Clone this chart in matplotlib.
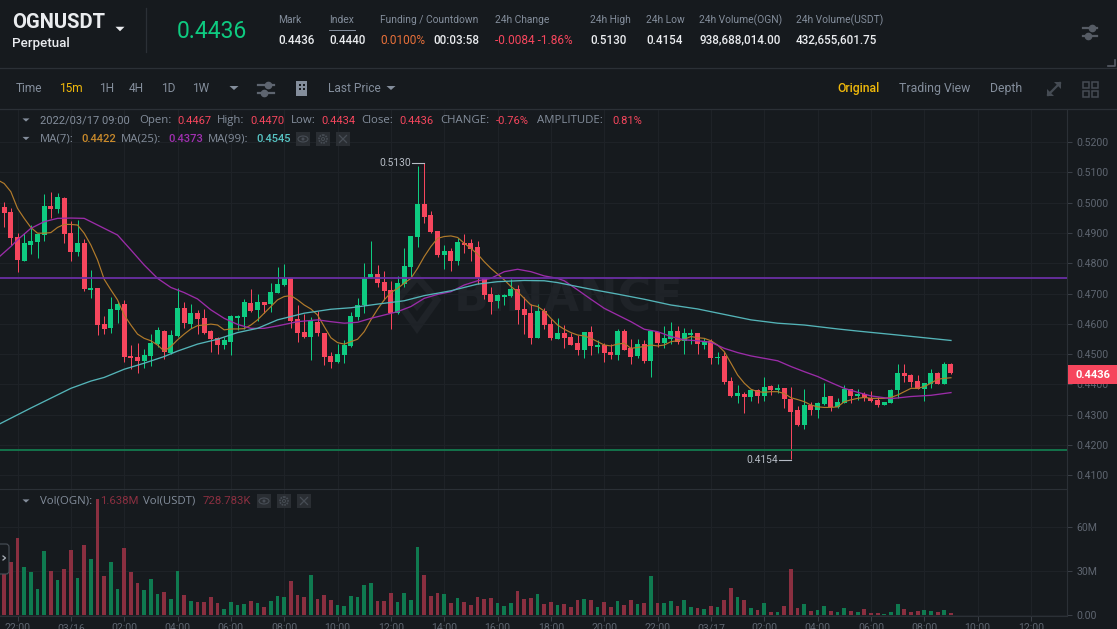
# OGNUSDT 15m perpetual chart, dark exchange layout
import matplotlib
matplotlib.use('Agg')
import matplotlib.pyplot as plt
from matplotlib.patches import Rectangle, Polygon, FancyBboxPatch, Circle, Ellipse

plt.rcParams['font.family'] = ['Roboto', 'DejaVu Sans']

### data ###
opens = [
    .4984, .4969, .4885, .4808, .4861, .4870, .4892, .4989, .4979, .5016,
    .4899, .4838, .4866, .4712, .4717, .4598, .4586, .4646, .4665, .4493,
    .4489, .4477, .4494, .4533, .4576, .4503, .4560, .4651, .4599, .4637,
    .4619, .4575, .4554, .4529, .4541, .4620, .4624, .4668, .4646, .4671,
    .4664, .4703, .4727, .4750, .4616, .4573, .4558, .4607, .4571, .4494,
    .4475, .4497, .4527, .4624, .4661, .4751, .4765, .4737, .4710, .4637,
    .4731, .4789, .4888, .4995, .4959, .4905, .4826, .4840, .4808, .4868,
    .4867, .4852, .4751, .4697, .4674, .4690, .4692, .4714, .4649, .4634,
    .4554, .4643, .4599, .4551, .4570, .4558, .4537, .4514, .4573, .4523,
    .4531, .4507, .4497, .4576, .4520, .4494, .4533, .4477, .4573, .4536,
    .4551, .4576, .4542, .4562, .4569, .4530, .4543, .4486, .4494, .4411,
    .4362, .4368, .4357, .4382, .4363, .4395, .4382, .4388, .4353, .4316,
    .4266, .4332, .4317, .4335, .4361, .4325, .4340, .4385, .4362, .4368,
    .4356, .4349, .4332, .4340, .4381, .4436, .4431, .4411, .4386, .4401,
    .4436, .4401, .4467]
highs = [
    .5003, .4981, .4899, .4901, .4926, .4899, .5027, .5035, .5031, .5017,
    .4939, .4943, .4881, .4778, .4717, .4626, .4690, .4673, .4679, .4529,
    .4536, .4516, .4565, .4591, .4580, .4580, .4717, .4671, .4664, .4646,
    .4648, .4580, .4555, .4555, .4629, .4629, .4681, .4715, .4697, .4672,
    .4734, .4786, .4797, .4750, .4662, .4631, .4624, .4643, .4571, .4507,
    .4532, .4547, .4638, .4686, .4800, .4872, .4793, .4773, .4742, .4758,
    .4851, .4891, .5121, .5130, .4972, .4906, .4860, .4849, .4882, .4896,
    .4879, .4874, .4752, .4723, .4700, .4700, .4748, .4727, .4688, .4665,
    .4665, .4652, .4616, .4618, .4596, .4571, .4563, .4572, .4593, .4547,
    .4538, .4533, .4582, .4582, .4549, .4549, .4547, .4580, .4574, .4593,
    .4607, .4593, .4587, .4582, .4569, .4554, .4549, .4506, .4506, .4426,
    .4397, .4376, .4384, .4384, .4423, .4398, .4401, .4389, .4390, .4330,
    .4384, .4341, .4341, .4404, .4362, .4354, .4398, .4385, .4384, .4376,
    .4378, .4357, .4343, .4384, .4467, .4467, .4433, .4431, .4406, .4450,
    .4442, .4475, .4470]
lows = [
    .4921, .4860, .4772, .4807, .4829, .4818, .4874, .4948, .4965, .4866,
    .4808, .4825, .4709, .4686, .4563, .4566, .4571, .4602, .4475, .4450,
    .4439, .4453, .4462, .4525, .4483, .4500, .4558, .4585, .4587, .4566,
    .4566, .4507, .4499, .4518, .4498, .4580, .4582, .4640, .4609, .4635,
    .4640, .4701, .4725, .4587, .4539, .4554, .4479, .4561, .4464, .4455,
    .4472, .4470, .4525, .4613, .4635, .4750, .4723, .4679, .4583, .4631,
    .4723, .4753, .4855, .4934, .4901, .4822, .4781, .4775, .4794, .4833,
    .4808, .4730, .4682, .4633, .4653, .4662, .4687, .4598, .4566, .4532,
    .4552, .4583, .4547, .4549, .4521, .4530, .4497, .4488, .4497, .4505,
    .4475, .4483, .4481, .4514, .4467, .4486, .4472, .4426, .4525, .4521,
    .4533, .4533, .4500, .4533, .4500, .4516, .4467, .4466, .4401, .4358,
    .4340, .4307, .4346, .4340, .4346, .4365, .4373, .4321, .4154, .4263,
    .4252, .4298, .4288, .4332, .4313, .4321, .4338, .4338, .4349, .4345,
    .4343, .4324, .4331, .4340, .4356, .4409, .4393, .4384, .4345, .4389,
    .4401, .4401, .4434]
closes = [
    .4967, .4884, .4811, .4866, .4874, .4895, .4989, .4980, .5017, .4896,
    .4838, .4867, .4716, .4718, .4595, .4584, .4648, .4664, .4490, .4486,
    .4478, .4496, .4536, .4579, .4506, .4562, .4651, .4602, .4635, .4617,
    .4571, .4549, .4530, .4545, .4625, .4627, .4671, .4643, .4672, .4662,
    .4704, .4730, .4750, .4610, .4571, .4556, .4608, .4568, .4492, .4475,
    .4500, .4530, .4626, .4662, .4750, .4765, .4735, .4708, .4635, .4734,
    .4791, .4890, .4995, .4954, .4902, .4826, .4840, .4808, .4869, .4860,
    .4848, .4750, .4695, .4672, .4694, .4696, .4715, .4644, .4629, .4554,
    .4643, .4596, .4552, .4569, .4554, .4531, .4514, .4572, .4527, .4530,
    .4505, .4496, .4576, .4514, .4492, .4533, .4477, .4576, .4536, .4554,
    .4576, .4541, .4571, .4570, .4532, .4543, .4486, .4492, .4408, .4362,
    .4371, .4357, .4383, .4362, .4393, .4382, .4388, .4353, .4310, .4265,
    .4332, .4317, .4340, .4360, .4324, .4341, .4384, .4362, .4368, .4354,
    .4346, .4331, .4342, .4383, .4436, .4429, .4408, .4386, .4404, .4436,
    .4401, .4467, .4436]
volumes = [
    28.6, 36.4, 52.5, 32.7, 29.5, 18.2, 43.9, 30.2, 24.1, 31.4,
    44.3, 25.2, 47.7, 38.4, 79.1, 26.8, 36.4, 18.0, 45.7, 29.3,
    22.3, 17.0, 24.5, 14.8, 15.7, 10.9, 30.0, 13.6, 9.5, 9.3,
    8.9, 12.5, 8.6, 4.1, 8.9, 7.0, 7.7, 9.5, 8.2, 5.5,
    9.8, 13.2, 12.5, 23.2, 13.9, 12.5, 27.5, 11.1, 13.9, 10.5,
    7.3, 6.1, 13.4, 12.3, 20.5, 22.3, 9.8, 9.5, 15.0, 9.1,
    15.2, 10.7, 46.4, 27.5, 13.0, 15.2, 14.5, 8.2, 11.6, 9.1,
    7.3, 12.7, 11.1, 12.0, 8.4, 6.4, 8.2, 16.6, 11.1, 11.8,
    14.3, 7.5, 9.1, 7.0, 7.7, 5.7, 10.5, 10.9, 10.5, 5.9,
    8.9, 5.7, 9.8, 7.0, 10.5, 7.7, 8.6, 26.8, 8.4, 8.4,
    9.8, 6.1, 10.5, 5.9, 5.0, 4.1, 6.4, 5.7, 10.5, 18.4,
    12.5, 10.5, 4.8, 3.6, 8.4, 2.3, 2.3, 6.1, 31.6, 5.0,
    7.7, 3.0, 3.6, 6.4, 3.0, 2.5, 5.0, 3.2, 2.0, 4.1,
    1.8, 1.6, 0.9, 2.5, 8.0, 4.3, 2.5, 3.0, 3.6, 3.0,
    2.3, 3.4, 1.638]

# MA(7), from the bar before the first visible one
ma7 = [
    .5075, .5063, .5036, .4981, .4948, .4918, .4899, .4899, .4901, .4918,
    .4928, .4928, .4926, .4899, .4860, .4811, .4747, .4712, .4679, .4629,
    .4596, .4566, .4552, .4544, .4530, .4510, .4525, .4547, .4566, .4583,
    .4594, .4596, .4599, .4596, .4580, .4583, .4583, .4584, .4596, .4613,
    .4635, .4657, .4679, .4690, .4693, .4679, .4662, .4649, .4629, .4591,
    .4554, .4538, .4533, .4541, .4549, .4574, .4613, .4648, .4679, .4703,
    .4717, .4734, .4750, .4783, .4822, .4855, .4882, .4888, .4890, .4885,
    .4866, .4849, .4830, .4805, .4783, .4764, .4745, .4723, .4706, .4684,
    .4662, .4657, .4642, .4618, .4596, .4582, .4571, .4563, .4560, .4552,
    .4541, .4530, .4527, .4533, .4536, .4519, .4522, .4525, .4530, .4527,
    .4530, .4541, .4544, .4549, .4558, .4554, .4552, .4544, .4530, .4508,
    .4470, .4431, .4404, .4384, .4376, .4374, .4376, .4376, .4370, .4356,
    .4350, .4343, .4332, .4326, .4324, .4324, .4326, .4343, .4349, .4354,
    .4357, .4354, .4354, .4354, .4357, .4365, .4376, .4387, .4387, .4393,
    .4404, .4417, .4420, .4422]

ma25_bars = [-1, 1, 2, 4, 6, 8, 10, 12, 14, 17, 19, 21, 23, 25, 27, 29, 31, 33, 35, 37,
             39, 41, 44, 47, 49, 51, 53, 55, 57, 59, 61, 63, 65, 67, 69, 71, 73, 75, 77, 79,
             81, 83, 84, 86, 88, 90, 92, 94, 96, 98, 100, 102, 104, 106, 108, 110, 112, 114, 116, 118,
             120, 122, 124, 126, 128, 130, 133, 136, 139, 142]
ma25 = [.4816, .4855, .4877, .4915, .4937, .4948, .4949, .4948, .4926, .4893,
        .4844, .4794, .4750, .4720, .4703, .4682, .4646, .4618, .4598, .4585,
        .4585, .4593, .4607, .4613, .4607, .4602, .4605, .4618, .4629, .4640,
        .4657, .4684, .4697, .4706, .4728, .4742, .4750, .4772, .4780, .4772,
        .4758, .4750, .4742, .4712, .4681, .4651, .4629, .4607, .4582, .4574,
        .4558, .4547, .4544, .4539, .4519, .4505, .4494, .4486, .4478, .4459,
        .4442, .4426, .4406, .4387, .4374, .4362, .4353, .4360, .4364, .4373]

ma99_bars = [-1, 4, 10, 11, 13, 15, 18, 21, 24, 26, 29, 32, 35, 38, 41, 45, 49, 52, 56, 60,
             63, 67, 71, 74, 78, 81, 83, 88, 92, 96, 100, 104, 108, 112, 116, 120, 125, 128, 134, 142]
ma99 = [.4266, .4322, .4387, .4395, .4411, .4423, .4450, .4470, .4492, .4510,
        .4533, .4549, .4571, .4585, .4613, .4635, .4648, .4653, .4665, .4676,
        .4693, .4709, .4731, .4739, .4743, .4742, .4736, .4714, .4698, .4681,
        .4662, .4649, .4631, .4613, .4602, .4596, .4583, .4576, .4563, .4545]

price_ticks = [.41, .42, .43, .44, .45, .46, .47, .48, .49, .50, .51, .52]
vol_ticks = [0, 30, 60]
vol_tick_labels = ['0.00', '30M', '60M']
time_tick_bars = [2, 10, 18, 26, 34, 42, 50, 58, 66, 74, 82, 90, 98, 106, 114, 122, 130, 138, 146, 154]
time_labels = ['22:00', '03/16', '02:00', '04:00', '06:00', '08:00', '10:00', '12:00', '14:00', '16:00',
               '18:00', '20:00', '22:00', '03/17', '02:00', '04:00', '06:00', '08:00', '10:00', '12:00']
resistance = .4752
support = .4183

### colours ###
BG = '#161a1e'
GRID = '#1e2227'
LINE = '#2b3036'
DIM = '#848e9c'
AXIS_TXT = '#5e6570'
WHITE = '#eaecef'
RED = '#f6465d'
GREEN = '#0ecb81'
GOLD = '#f0b90b'

W, H = 1117, 629
bars = list(range(len(closes)))
fig = plt.figure(figsize=(W / 100, H / 100), dpi=100, facecolor=BG)


def px_axes(left, top, right, bottom, **kw):
    return fig.add_axes([left / W, 1 - bottom / H, (right - left) / W, (bottom - top) / H], **kw)


# watermark sits under everything
back = px_axes(0, 0, W, H, zorder=0)
back.set_xlim(0, W)
back.set_ylim(H, 0)
back.axis('off')
back.add_patch(Polygon([(417, 277), (437, 300), (417, 328), (397, 300)], fc='none', ec='#1f2328', lw=5))
back.add_patch(Polygon([(417, 293), (425, 302), (417, 311), (409, 302)], fc='#1f2328', ec='none'))
back.text(454, 299, 'BINANCE', color='#1f2328', fontsize=33, fontweight='bold', va='center', family='DejaVu Sans')

### price panel ###
ax = px_axes(0, 109, 1067, 489, zorder=1)
ax.patch.set_visible(False)
colors = [GREEN if c >= o else RED for o, c in zip(opens, closes)]
ax.vlines(bars, lows, highs, colors=colors, linewidth=0.72, zorder=3)
ax.bar(bars, [abs(c - o) for o, c in zip(opens, closes)], bottom=[min(o, c) for o, c in zip(opens, closes)],
       width=0.75, color=colors, zorder=3)
ax.plot(range(-1, len(ma7) - 1), ma7, color='#b27b2b', lw=0.85, zorder=4)
ax.plot(ma25_bars, ma25, color='#9b2ca8', lw=0.95, zorder=4)
ax.plot(ma99_bars, ma99, color='#54b4b8', lw=0.95, zorder=4)
ax.axhline(resistance, color='#6a2ea3', lw=1.3, zorder=5)
ax.axhline(support, color='#137a4e', lw=1.3, zorder=5)
ax.set_xlim(-0.625, 159.4)
ax.set_ylim(.52 - 347 / 3030, .52 + 33 / 3030)
ax.set_xticks(time_tick_bars)
ax.set_yticks(price_ticks)
ax.set_yticklabels(['%.4f' % p for p in price_ticks])
ax.yaxis.tick_right()
ax.tick_params(axis='x', length=0, labelbottom=False)
ax.tick_params(axis='y', length=3.6, width=0.7, color='#3c4149', labelcolor=AXIS_TXT, labelsize=7.6, pad=3)
ax.grid(color=GRID, lw=0.8)
ax.set_axisbelow(True)
for name, spine in ax.spines.items():
    spine.set_visible(name in ('right', 'bottom'))
    spine.set_color(LINE)
    spine.set_linewidth(0.8)

### volume panel ###
vol = px_axes(0, 490, 1067, 616, zorder=1)
vol.patch.set_visible(False)
vol_colors = ['#0f7a50' if c >= o else '#8a2f40' for o, c in zip(opens, closes)]
vol.bar(bars, volumes, width=0.56, color=vol_colors, zorder=3)
vol.set_xlim(ax.get_xlim())
vol.set_ylim(-0.48, 85.4)
vol.set_xticks(time_tick_bars)
vol.set_xticklabels(time_labels)
vol.set_yticks(vol_ticks)
vol.set_yticklabels(vol_tick_labels)
vol.get_yticklabels()[0].set_va('bottom')
vol.yaxis.tick_right()
vol.tick_params(axis='x', length=3.6, width=0.7, color='#3c4149', labelcolor=AXIS_TXT, labelsize=7.6, pad=1.5)
vol.tick_params(axis='y', length=3.6, width=0.7, color='#3c4149', labelcolor=AXIS_TXT, labelsize=7.6, pad=3)
vol.grid(color=GRID, lw=0.8)
vol.set_axisbelow(True)
for name, spine in vol.spines.items():
    spine.set_visible(name in ('right', 'bottom'))
    spine.set_color(LINE)
    spine.set_linewidth(0.8)

### page chrome, in pixel coordinates ###
ui = px_axes(0, 0, W, H, zorder=2)
ui.patch.set_visible(False)
ui.set_xlim(0, W)
ui.set_ylim(H, 0)
ui.axis('off')


def txt(x, y, s, color=DIM, size=7.8, **kw):
    ui.text(x, y, s, color=color, fontsize=size, va='center', **kw)


def tri(x, y, color=DIM, w=4.5, h=4):
    ui.add_patch(Polygon([(x - w, y - h / 2), (x + w, y - h / 2), (x, y + h / 2)], fc=color, ec='none'))


def sliders(x, y, color='#5e6570', w=8):
    for dy, dx in ((-4, 2), (4, -2)):
        ui.plot([x - w, x + w], [y + dy, y + dy], color=color, lw=1.6)
        ui.plot([x + dx], [y + dy], 'o', color=color, ms=4.5)


def small_icons(xs, y):
    # eye, gear, close
    c = '#474d55'
    for x in xs:
        ui.add_patch(Rectangle((x - 7, y - 7), 14, 14, fc='#2a2e33', ec='none'))
    ui.add_patch(Ellipse((xs[0], y), 10, 6, fc='none', ec=c, lw=0.8))
    ui.add_patch(Circle((xs[0], y), 1.5, fc=c, ec='none'))
    ui.add_patch(Circle((xs[1], y), 4, fc='none', ec=c, lw=1.2, ls=(0, (1, 0.6))))
    ui.add_patch(Circle((xs[1], y), 1.5, fc='none', ec=c, lw=0.7))
    ui.plot([xs[2] - 3.5, xs[2] + 3.5], [y - 3.5, y + 3.5], color=c, lw=0.9)
    ui.plot([xs[2] - 3.5, xs[2] + 3.5], [y + 3.5, y - 3.5], color=c, lw=0.9)


ui.plot([0, W], [68, 68], color=LINE, lw=0.9)
ui.plot([0, W], [108.5, 108.5], color=LINE, lw=0.9)
ui.plot([146, 146], [8, 52], color=LINE, lw=0.9)

# header
txt(12, 22, 'OGNUSDT', WHITE, 14.5, fontweight='bold')
txt(12, 44, 'Perpetual', WHITE, 9.6, fontweight='medium')
tri(120, 29, WHITE, 4.5, 4.5)
txt(177, 31, '0.4436', GREEN, 16.5)
header = [(278, 'Mark', '0.4436'), (329, 'Index', '0.4440'), (590, '24h High', '0.5130'),
          (646, '24h Low', '0.4154'), (699, '24h Volume(OGN)', '938,688,014.00'),
          (796, '24h Volume(USDT)', '432,655,601.75')]
for x, label, value in header:
    txt(x, 20, label, DIM, 7.4)
    txt(x, 40, value, WHITE, 8.4, fontweight='medium')
ui.plot([329, 355], [30, 30], color=DIM, lw=0.7)
txt(380, 20, 'Funding / Countdown', DIM, 7.4)
txt(380, 40, '0.0100%', '#e8703a', 8.6)
txt(433, 40, '00:03:58', WHITE, 8.4, fontweight='medium')
txt(495, 20, '24h Change', DIM, 7.4)
txt(495, 40, '-0.0084 -1.86%', RED, 8.6)
sliders(1090, 32, '#565c65', 7)
ui.plot([1108, 1115, 1115], [66, 66, 60], color='#565c65', lw=1.2)

# toolbar
for x, label, color in [(16, 'Time', DIM), (59, '15m', GOLD), (99, '1H', DIM), (129, '4H', DIM),
                        (161, '1D', DIM), (192, '1W', DIM), (328, 'Last Price', DIM)]:
    txt(x, 88.5, label, color, 8.6)
tri(234, 88)
tri(391, 88)
sliders(266, 89)
ui.add_patch(Rectangle((296, 81), 11, 15, fc='#848e9c', ec='none'))
for bx in (298.5, 302.5):
    for by in (84, 88):
        ui.add_patch(Rectangle((bx, by), 2.2, 2.2, fc=BG, ec='none'))
txt(837, 88.5, 'Original', GOLD, 8.8, fontweight='medium')
txt(899, 88.5, 'Trading View', DIM, 8.8)
txt(990, 88.5, 'Depth', DIM, 8.8)
ui.plot([1048, 1060], [95, 83], color='#454b53', lw=1.6)
ui.add_patch(Polygon([(1054, 82), (1061, 82), (1061, 89)], fc='#454b53', ec='none'))
ui.add_patch(Polygon([(1047, 89), (1047, 96), (1054, 96)], fc='#454b53', ec='none'))
for gx in (1083, 1092):
    for gy in (82, 91):
        ui.add_patch(Rectangle((gx, gy), 6, 6, fc='none', ec='#454b53', lw=1.1))

# legends over the panels, word labels are wider than the digits in the original
LABEL_FONT = 'Open Sans'
tri(26, 120, DIM, 3.5, 3.2)
row1 = [(40, '2022/03/17 09:00', DIM), (139, 'Open:', DIM), (177, '0.4467', RED), (217, 'High:', DIM),
        (250, '0.4470', RED), (291, 'Low:', DIM), (321, '0.4434', RED), (361, 'Close:', DIM),
        (399, '0.4436', RED), (440, 'CHANGE:', DIM), (496, '-0.76%', RED), (537, 'AMPLITUDE:', DIM),
        (612, '0.81%', RED)]
for x, s, color in row1:
    if color == DIM and x > 40:
        txt(x, 120.5, s, color, 8.2, family=LABEL_FONT)
    else:
        txt(x, 120.5, s, color, 8.0)
tri(26, 138.5, DIM, 3.5, 3.2)
row2 = [(40, 'MA(7):', DIM), (81, '0.4422', '#c98a2b'), (121, 'MA(25):', DIM), (168, '0.4373', '#a030b0'),
        (208, 'MA(99):', DIM), (256, '0.4545', '#58c4c4')]
for x, s, color in row2:
    if color == DIM:
        txt(x, 139, s, color, 8.2, family=LABEL_FONT)
    else:
        txt(x, 139, s, color, 8.0, fontweight='medium')
small_icons([303, 323, 343], 139)
tri(26, 501, DIM, 3.5, 3.2)
for x, s, color in [(40, 'Vol(OGN):', DIM), (143, 'Vol(USDT)', DIM)]:
    txt(x, 501, s, color, 8.2, family=LABEL_FONT)
for x, s in [(100, '1.638M'), (203, '728.783K')]:
    txt(x, 501, s, '#8a2f40', 8.2)
small_icons([264, 284, 304], 501)

# high / low markers
txt(379, 163, '0.5130', '#b7bdc6', 7.4)
ui.plot([412, 424], [163, 163], color='#b7bdc6', lw=0.8)
txt(746, 460, '0.4154', '#b7bdc6', 7.4)
ui.plot([779, 791], [460, 460], color='#b7bdc6', lw=0.8)

# last price tag
ui.add_patch(Rectangle((1068, 365), 49, 19, fc=RED, ec='none'))
ui.text(1092.5, 374.5, '0.4436', color='white', fontsize=8, fontweight='bold', ha='center', va='center')

# collapse handle
ui.add_patch(FancyBboxPatch((-6, 544), 15, 30, boxstyle='round,pad=0,rounding_size=3', fc=BG, ec='#4a5058', lw=0.8))
ui.plot([3, 5.5, 3], [556, 558, 560], color='#aab0b8', lw=0.9)

fig.savefig('out.png', dpi=100, facecolor=BG)
